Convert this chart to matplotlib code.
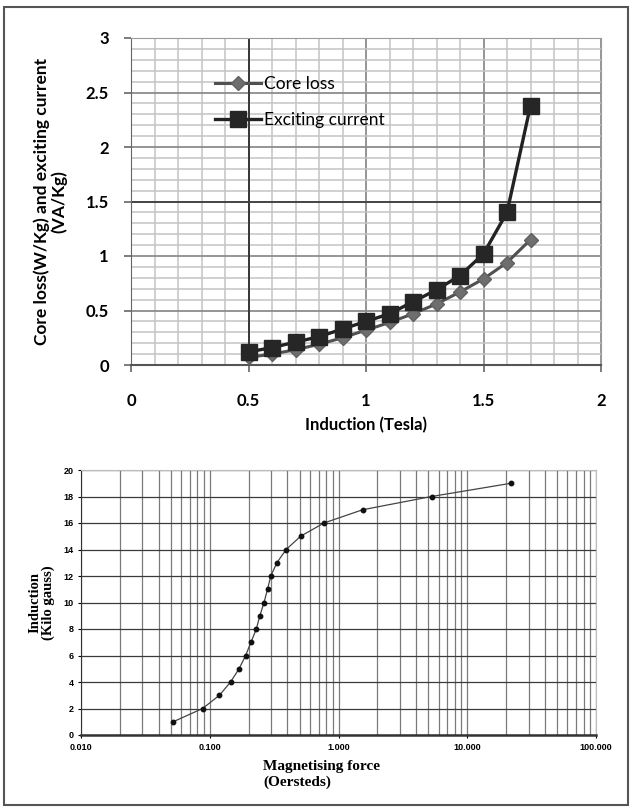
import matplotlib.pyplot as plt
import matplotlib.patches as mpatches
from matplotlib.ticker import MultipleLocator, LogLocator, FixedLocator, NullFormatter, FuncFormatter

# top chart: core loss and exciting current vs induction
induction_t = [0.5, 0.6, 0.7, 0.8, 0.9, 1.0, 1.1, 1.2, 1.3, 1.4, 1.5, 1.6, 1.7]
core_loss = [0.07, 0.10, 0.14, 0.19, 0.25, 0.32, 0.39, 0.47, 0.56, 0.67, 0.79, 0.94, 1.15]
exciting_current = [0.12, 0.16, 0.21, 0.26, 0.33, 0.40, 0.47, 0.58, 0.69, 0.82, 1.02, 1.40, 2.38]

# bottom chart: magnetisation curve
mag_force = [0.052, 0.088, 0.119, 0.145, 0.169, 0.190, 0.209, 0.230, 0.245, 0.264,
             0.281, 0.298, 0.332, 0.392, 0.508, 0.771, 1.54, 5.28, 21.9]
induction_kg = [1, 2, 3, 4, 5, 6, 7, 8, 9, 10, 11, 12, 13, 14, 15, 16, 17, 18, 19]

W, H = 633, 809
fig = plt.figure(figsize=(W / 100, H / 100), dpi=100)

def box(l, t, r, b):
    return [l / W, 1 - b / H, (r - l) / W, (b - t) / H]

# ---- top chart
ax1 = fig.add_axes(box(131, 38, 601, 365))
sans = 'Lato'
ax1.plot(induction_t, core_loss, color='#505050', lw=2.2, marker='D', ms=7,
         mfc='#6e6e6e', mec='#606060', label='Core loss', zorder=3)
ax1.plot(induction_t, exciting_current, color='#222222', lw=2.4, marker='s', ms=11,
         mfc='#262626', mec='#262626', label='Exciting current', zorder=4)

ax1.set_xlim(0, 2)
ax1.set_ylim(0, 3)
ax1.xaxis.set_major_locator(MultipleLocator(0.5))
ax1.yaxis.set_major_locator(MultipleLocator(0.5))
ax1.xaxis.set_minor_locator(MultipleLocator(0.1))
ax1.yaxis.set_minor_locator(MultipleLocator(0.1))
ax1.grid(which='major', color='#8c8c8c', lw=1.3)
ax1.grid(which='minor', color='#c4c4c4', lw=1.1)
ax1.axvline(0.5, color='#303030', lw=1.3, zorder=1)
ax1.axhline(1.5, color='#404040', lw=1.3, zorder=1)
ax1.set_axisbelow(True)
ax1.tick_params(which='major', length=5, width=1.2, color='#666666', labelsize=12, pad=11)
ax1.tick_params(axis='x', which='major', pad=15)
ax1.tick_params(which='minor', length=0)
for lab in ax1.get_xticklabels() + ax1.get_yticklabels():
    lab.set_fontfamily(sans)
    lab.set_fontweight('bold')
ax1.yaxis.set_major_formatter(FuncFormatter(lambda v, p: f'{v:g}'))
ax1.xaxis.set_major_formatter(FuncFormatter(lambda v, p: f'{v:g}'))
for s in ['top', 'right']:
    ax1.spines[s].set_color('#9a9a9a')
ax1.spines['left'].set_color('#666666')
ax1.spines['bottom'].set_color('#555555')
ax1.spines['bottom'].set_linewidth(1.5)

ax1.set_xlabel('Induction (Tesla)', fontfamily=sans, fontweight='bold', fontsize=12, labelpad=6)
ax1.set_ylabel('Core loss(W/Kg) and exciting current\n(VA/Kg)', fontfamily=sans,
               fontweight='bold', fontsize=12.5, labelpad=13, linespacing=1.1)

ax1.legend(loc='upper left', bbox_to_anchor=(0.165, 0.905), frameon=False,
           prop={'family': sans, 'size': 12.5}, handlelength=2.6, labelspacing=1.15,
           handletextpad=0.2, borderaxespad=0)

# ---- bottom chart
ax2 = fig.add_axes(box(81, 470, 596, 735))
ax2.plot(mag_force, induction_kg, color='#444444', lw=0.9, marker='o', ms=3.2,
         mfc='#111111', mec='#111111', zorder=3)
ax2.set_xscale('log')
ax2.set_xlim(0.01, 100)
ax2.set_ylim(0, 20)
ax2.xaxis.set_major_locator(FixedLocator([0.01, 0.1, 1, 10, 100]))
ax2.xaxis.set_minor_locator(LogLocator(base=10, subs=range(2, 10)))
ax2.xaxis.set_minor_formatter(NullFormatter())
ax2.xaxis.set_major_formatter(FuncFormatter(lambda v, p: f'{v:.3f}'))
ax2.yaxis.set_major_locator(MultipleLocator(2))
ax2.grid(axis='x', which='both', color='#7a7a7a', lw=0.9)
ax2.grid(axis='y', which='major', color='#3a3a3a', lw=0.9)
ax2.set_axisbelow(True)
ax2.tick_params(which='major', length=2.5, width=0.8, labelsize=6.5, pad=3)
ax2.tick_params(which='minor', length=0)
for lab in ax2.get_xticklabels() + ax2.get_yticklabels():
    lab.set_fontfamily('Liberation Sans')
    lab.set_fontweight('bold')
for s in ['top', 'right']:
    ax2.spines[s].set_color('#bbbbbb')
ax2.spines['left'].set_color('#333333')
ax2.spines['bottom'].set_color('#333333')
ax2.spines['bottom'].set_linewidth(1.8)

ax2.set_ylabel('Induction\n(Kilo gauss)', fontfamily='Liberation Serif', fontweight='bold',
               fontsize=10.5, labelpad=6, linespacing=1.0)
fig.text(263 / W, 1 - 760 / H, 'Magnetising force\n(Oersteds)', fontfamily='Liberation Serif',
         fontweight='bold', fontsize=11, ha='left', va='top', linespacing=1.2)

# outer frame of the figure
fig.patches.append(mpatches.Rectangle((4 / W, 1 - 805 / H), 624 / W, 798 / H,
                                      transform=fig.transFigure, fill=False,
                                      edgecolor='#555555', lw=1.5))

plt.savefig('out.png', dpi=100)
